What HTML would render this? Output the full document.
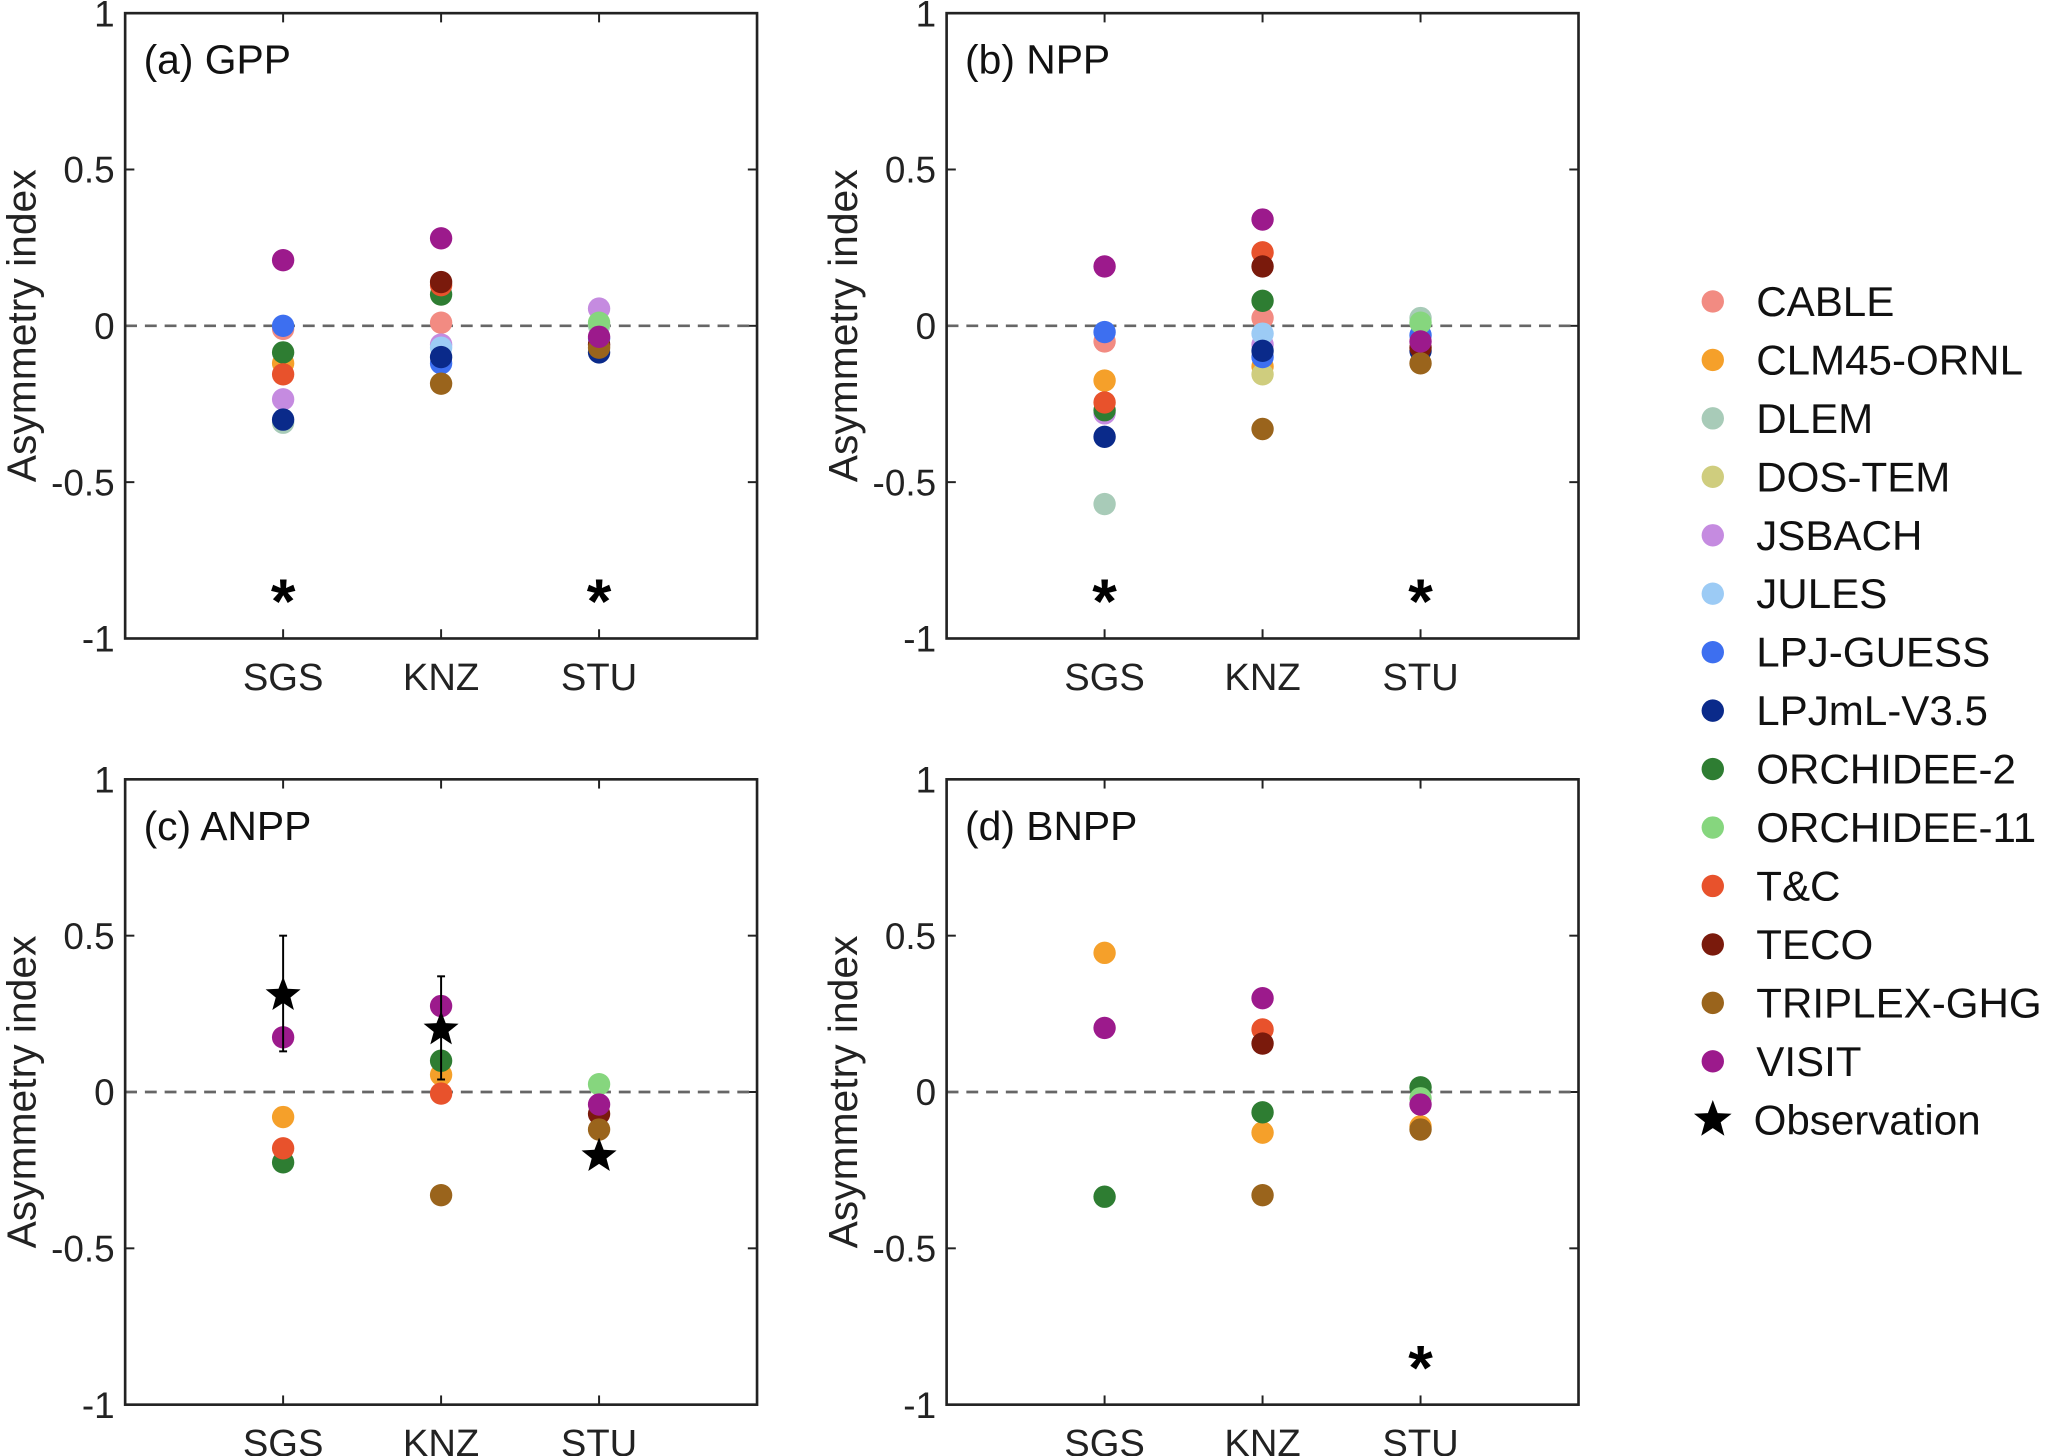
<!DOCTYPE html>
<html><head><meta charset="utf-8"><style>
html,body{margin:0;padding:0;background:#fff}
svg{display:block;font-family:"Liberation Sans",Arial,sans-serif}
</style></head><body>
<svg id="chart" width="2067" height="1456" viewBox="0 0 1568 1106" xmlns="http://www.w3.org/2000/svg"></svg>
<script>
const sites = ["SGS","KNZ","STU"];
const models = ["CABLE","CLM45-ORNL","DLEM","DOS-TEM","JSBACH","JULES","LPJ-GUESS","LPJmL-V3.5","ORCHIDEE-2","ORCHIDEE-11","T&C","TECO","TRIPLEX-GHG","VISIT"];
const colors = ["#f28b82","#f5a02a","#a8cbb8","#cfcd7e","#c58be0","#9ccbf5","#3d6ff0","#0a2a8a","#2e7d32","#86d67e","#e8522c","#7a1a0c","#9a641c","#9c1a8c"];
const yTicks = [1,0.5,0,-0.5,-1];
const yTickLabels = ["1","0.5","0","-0.5","-1"];
// values per model: [SGS, KNZ, STU]; null = not shown
const gppValues = [
 [-0.01,0.01,null],[-0.12,null,null],[-0.31,null,0.0],[null,null,null],[-0.235,-0.06,0.055],[null,-0.07,null],
 [0.0,-0.12,-0.04],[-0.30,-0.10,-0.085],[-0.085,0.10,null],[null,null,0.01],[-0.155,0.13,null],[null,0.14,-0.06],
 [null,-0.185,-0.07],[0.21,0.28,-0.035]];
const nppValues = [
 [-0.05,0.025,null],[-0.175,-0.13,null],[-0.57,null,0.025],[null,-0.155,null],[-0.28,-0.06,null],[null,-0.025,null],
 [-0.02,-0.10,-0.03],[-0.355,-0.08,-0.08],[-0.27,0.08,null],[null,null,0.01],[-0.245,0.235,null],[null,0.19,-0.07],
 [null,-0.33,-0.12],[0.19,0.34,-0.05]];
const anppValues = [
 [null,null,null],[-0.08,0.055,null],[null,null,null],[null,null,null],[null,null,null],[null,null,null],
 [null,null,null],[null,null,null],[-0.225,0.10,null],[null,null,0.025],[-0.18,-0.005,null],[null,null,-0.07],
 [null,-0.33,-0.12],[0.175,0.275,-0.04]];
const bnppValues = [
 [null,null,null],[0.445,-0.13,-0.11],[null,null,null],[null,null,null],[null,null,null],[null,null,null],
 [null,null,null],[null,null,null],[-0.335,-0.065,0.015],[null,null,-0.02],[null,0.20,null],[null,0.155,null],
 [null,-0.33,-0.12],[0.205,0.30,-0.04]];
const anppObs = [0.31,0.20,-0.205];
const anppObsLow = [0.13,0.04,null];
const anppObsHigh = [0.50,0.37,null];
const gppStars = [1,0,1];
const nppStars = [1,0,1];
const bnppStars = [0,0,1];

const NS="http://www.w3.org/2000/svg";
const svg=document.getElementById('chart');
function mk(tag,attrs,parent){const e=document.createElementNS(NS,tag);for(const k in attrs)e.setAttribute(k,attrs[k]);(parent||svg).appendChild(e);return e;}

const panels=[
 {key:"gpp",title:"(a) GPP",left:94,top:10,vals:gppValues,stars:gppStars},
 {key:"npp",title:"(b) NPP",left:718,top:10,vals:nppValues,stars:nppStars},
 {key:"anpp",title:"(c) ANPP",left:94,top:592,vals:anppValues,obs:true},
 {key:"bnpp",title:"(d) BNPP",left:718,top:592,vals:bnppValues,stars:bnppStars}];
const W=480,H=475;
function starPath(cx,cy,R){const r=R*0.42;let d="";for(let i=0;i<10;i++){const a=-Math.PI/2+i*Math.PI/5;const rr=i%2?r:R;d+=(i?"L":"M")+(cx+rr*Math.cos(a)).toFixed(1)+","+(cy+rr*Math.sin(a)).toFixed(1);}return d+"Z";}

panels.forEach(p=>{
 const g=mk('g',{});
 
 
 const xs=i=>p.left+(i+1)*W/4;
 const ys=v=>p.top+(1-v)/2*H;
 yTicks.forEach((t,i)=>{
  const y=ys(t);
  mk('line',{x1:p.left,x2:p.left+7,y1:y,y2:y,stroke:'#222','stroke-width':1.5},g);
  mk('line',{x1:p.left+W-7,x2:p.left+W,y1:y,y2:y,stroke:'#222','stroke-width':1.5},g);
  const tl=mk('text',{x:p.left-8,y:y+10,'text-anchor':'end','font-size':28,fill:'#222'},g);
  tl.textContent=yTickLabels[i];
  
  
 });
 sites.forEach((s,i)=>{
  const x=xs(i);
  mk('line',{x1:x,x2:x,y1:p.top,y2:p.top+7,stroke:'#222','stroke-width':1.5},g);
  mk('line',{x1:x,x2:x,y1:p.top+H-7,y2:p.top+H,stroke:'#222','stroke-width':1.5},g);
  const tl=mk('text',{x:x,y:p.top+H+39,'text-anchor':'middle','font-size':29,fill:'#222'},g);
  tl.textContent=s;
  
  
 });
 mk('line',{x1:p.left,x2:p.left+W,y1:ys(0),y2:ys(0),stroke:'#666','stroke-width':2,'stroke-dasharray':'9,6'},g);
 const yl=mk('text',{x:0,y:0,transform:`translate(${p.left-68},${p.top+H/2}) rotate(-90)`,'text-anchor':'middle','font-size':31,fill:'#222'},g);
 yl.textContent="Asymmetry index";
 
 
 const tt=mk('text',{x:p.left+14,y:p.top+46,'font-size':31,fill:'#111'},g);
 tt.textContent=p.title;
 
 
 p.vals.forEach((arr,m)=>{arr.forEach((v,i)=>{if(v===null)return;
  const c=mk('circle',{cx:xs(i),cy:ys(v),r:8.5,fill:colors[m]},g);
  
  
 });});
 if(p.stars){p.stars.forEach((s,i)=>{if(!s)return;
  const t=mk('text',{x:xs(i),y:ys(-0.85)+24,'text-anchor':'middle','font-size':48,'font-weight':'bold',fill:'#000'},g);
  t.textContent="*";
  
  
 });}
 if(p.obs){anppObs.forEach((v,i)=>{
  if(anppObsLow[i]!==null){const l=mk('line',{x1:xs(i),x2:xs(i),y1:ys(anppObsLow[i]),y2:ys(anppObsHigh[i]),stroke:'#000','stroke-width':1.5},g);
   
   
   [anppObsLow[i],anppObsHigh[i]].forEach(e=>mk('line',{x1:xs(i)-3,x2:xs(i)+3,y1:ys(e),y2:ys(e),stroke:'#000','stroke-width':1.5},g));}
  const s=mk('path',{d:starPath(xs(i),ys(v),14),fill:'#000'},g);
  
  
 });}
 mk('rect',{x:p.left,y:p.top,width:W,height:H,fill:'none',stroke:'#222','stroke-width':2},g);
});

const lg=mk('g',{});


models.forEach((m,i)=>{
 const y=229+i*44.4;
 const e=mk('g',{},lg);
 
 
 mk('circle',{cx:1300,cy:y,r:8.5,fill:colors[i]},e);
 const t=mk('text',{x:1333,y:y+11,'font-size':32,fill:'#111'},e);
 t.textContent=m;
});
const oy=229+14*44.4;
const oe=mk('g',{},lg);


mk('path',{d:starPath(1300,oy,15),fill:'#000'},oe);
const ot=mk('text',{x:1331,y:oy+11,'font-size':32,fill:'#111'},oe);
ot.textContent="Observation";
</script>
</body></html>
